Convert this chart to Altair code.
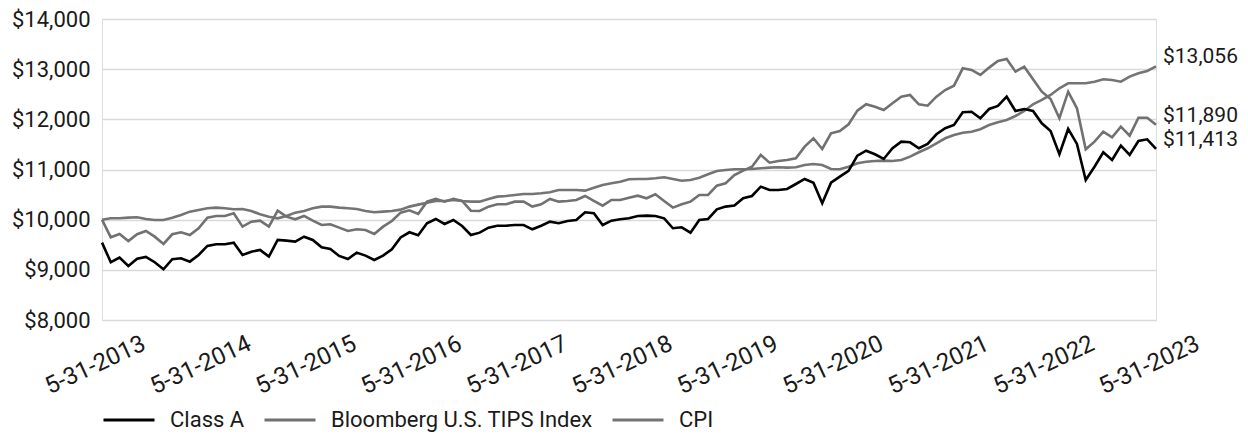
import json
import pandas as pd
import altair as alt

series_names = ["Class A", "Bloomberg U.S. TIPS Index", "CPI"]
series_colors = ["#000000", "#717171", "#747474"]

class_a = [9542, 9151, 9243, 9077, 9223, 9257, 9151, 9011, 9211, 9231, 9163, 9296,
           9476, 9509, 9509, 9542, 9296, 9362, 9396, 9263, 9595, 9582, 9562, 9661,
           9595, 9449, 9416, 9277, 9217, 9343, 9283, 9197, 9283, 9410, 9645, 9749,
           9690, 9928, 10014, 9914, 9994, 9874, 9695, 9741, 9841, 9880, 9880, 9894,
           9894, 9808, 9880, 9960, 9928, 9974, 9994, 10147, 10127, 9894, 9980, 10008,
           10027, 10074, 10080, 10074, 10027, 9829, 9848, 9741, 9994, 10014, 10207, 10260,
           10280, 10426, 10472, 10658, 10592, 10592, 10612, 10711, 10811, 10737, 10327, 10737,
           10857, 10971, 11276, 11375, 11303, 11210, 11423, 11555, 11542, 11423, 11509, 11702,
           11822, 11887, 12140, 12152, 12021, 12206, 12266, 12451, 12166, 12206, 12166, 11921,
           11768, 11303, 11808, 11509, 10791, 11056, 11343, 11190, 11475, 11289, 11568, 11602,
           11413]

tips = [10000, 9649, 9715, 9575, 9709, 9775, 9661, 9516, 9709, 9749, 9695, 9829,
        10040, 10074, 10074, 10127, 9861, 9960, 9980, 9861, 10179, 10060, 10008, 10074,
        9980, 9894, 9908, 9841, 9775, 9808, 9795, 9715, 9861, 9974, 10140, 10186,
        10114, 10359, 10413, 10359, 10413, 10373, 10179, 10173, 10260, 10307, 10307, 10359,
        10359, 10260, 10307, 10413, 10359, 10373, 10393, 10472, 10373, 10280, 10393, 10393,
        10439, 10479, 10426, 10506, 10373, 10240, 10307, 10359, 10492, 10492, 10678, 10725,
        10891, 10977, 11056, 11289, 11136, 11170, 11190, 11224, 11455, 11622, 11409, 11722,
        11768, 11901, 12173, 12300, 12252, 12186, 12320, 12451, 12485, 12300, 12272, 12451,
        12585, 12671, 13017, 12984, 12884, 13031, 13163, 13203, 12951, 13050, 12798, 12551,
        12406, 12021, 12551, 12220, 11403, 11555, 11755, 11642, 11853, 11674, 12033, 12033,
        11890]

cpi = [10000, 10027, 10027, 10040, 10047, 10014, 9994, 9994, 10040, 10094, 10160, 10193,
       10227, 10240, 10227, 10207, 10213, 10173, 10107, 10060, 10027, 10074, 10140, 10173,
       10227, 10260, 10260, 10240, 10227, 10213, 10173, 10147, 10160, 10173, 10200, 10260,
       10300, 10339, 10373, 10373, 10393, 10373, 10359, 10359, 10413, 10459, 10472, 10492,
       10512, 10512, 10526, 10546, 10592, 10592, 10592, 10578, 10638, 10692, 10725, 10757,
       10805, 10811, 10811, 10825, 10845, 10811, 10777, 10791, 10837, 10905, 10971, 10991,
       11004, 11004, 11011, 11024, 11037, 11044, 11037, 11044, 11090, 11110, 11090, 11011,
       11004, 11056, 11124, 11156, 11170, 11176, 11170, 11190, 11256, 11343, 11423, 11523,
       11622, 11688, 11734, 11754, 11802, 11887, 11941, 11987, 12067, 12166, 12300, 12386,
       12485, 12619, 12718, 12718, 12718, 12751, 12798, 12784, 12751, 12851, 12918, 12964,
       13056]

tick_labels = ["5-31-2013", "5-31-2014", "5-31-2015", "5-31-2016", "5-31-2017", "5-31-2018",
               "5-31-2019", "5-31-2020", "5-31-2021", "5-31-2022", "5-31-2023"]
y_ticks = [8000, 9000, 10000, 11000, 12000, 13000, 14000]

FONT = "Roboto"
TEXT_COLOR = "#1a1a1a"

months = pd.date_range("2013-05-31", periods=len(class_a), freq=pd.offsets.MonthEnd())
values_by_series = {"Class A": class_a, "Bloomberg U.S. TIPS Index": tips, "CPI": cpi}

rows = []
# draw order: CPI, TIPS, then Class A on top
for name in ["CPI", "Bloomberg U.S. TIPS Index", "Class A"]:
    for i, (d, v) in enumerate(zip(months, values_by_series[name])):
        rows.append({"idx": i, "date": d.strftime("%Y-%m-%d"), "series": name, "value": v})
df = pd.DataFrame(rows)

end_rows = []
for name in series_names:
    vals = values_by_series[name]
    end_rows.append({"idx": len(vals) - 1, "value": vals[-1], "series": name,
                     "label": "${:,.0f}".format(vals[-1])})
df_end = pd.DataFrame(end_rows)

n_last = len(class_a) - 1
tick_positions = list(range(0, n_last + 1, 12))
label_expr = json.dumps(tick_labels) + "[round(datum.value / 12)]"

x_enc = alt.X("idx:Q",
              scale=alt.Scale(domain=[0, n_last], nice=False, zero=False),
              axis=alt.Axis(title=None, values=tick_positions, labelExpr=label_expr,
                            labelAngle=-25, labelAlign="center", labelBaseline="middle",
                            labelPadding=45, labelOffset=-7, ticks=False, tickSize=0,
                            domain=False, grid=False,
                            labelFont=FONT, labelFontSize=24, labelColor=TEXT_COLOR,
                            labelOverlap=False, labelBound=False, labelFlush=False))
y_enc = alt.Y("value:Q",
              scale=alt.Scale(domain=[8000, 14000], nice=False, zero=False),
              axis=alt.Axis(title=None, values=y_ticks, format="$,.0f",
                            ticks=False, tickSize=0, domain=False, grid=True,
                            gridColor="#d9d9d9", gridWidth=1.5,
                            labelPadding=12, labelFont=FONT, labelFontSize=22,
                            labelColor=TEXT_COLOR))

lines = alt.Chart(df).mark_line(strokeWidth=2.6, strokeJoin="miter").encode(
    x=x_enc,
    y=y_enc,
    color=alt.Color("series:N",
                    scale=alt.Scale(domain=series_names, range=series_colors),
                    sort=series_names,
                    legend=alt.Legend(title=None, orient="none", legendX=0, legendY=374,
                                      direction="horizontal", symbolType="stroke",
                                      symbolSize=2601, symbolStrokeWidth=3,
                                      labelFont=FONT, labelFontSize=22, labelColor=TEXT_COLOR,
                                      labelOffset=14, columnPadding=13, padding=0,
                                      labelLimit=0)),
    detail="series:N",
)

end_text = alt.Chart(df_end).mark_text(
    align="left", baseline="middle", dx=7, dy=-9,
    font=FONT, fontSize=21, color=TEXT_COLOR
).encode(
    x=alt.X("idx:Q"),
    y=alt.Y("value:Q"),
    text="label:N",
)

chart = alt.layer(lines, end_text).properties(
    width=1054,
    height=301,
    autosize=alt.AutoSizeParams(type="none"),
    padding={"left": 94, "top": 11, "right": 84, "bottom": 113},
).configure_view(stroke=None).configure(background="white")

chart.save("out.html", embed_options={"renderer": "svg", "actions": False})
